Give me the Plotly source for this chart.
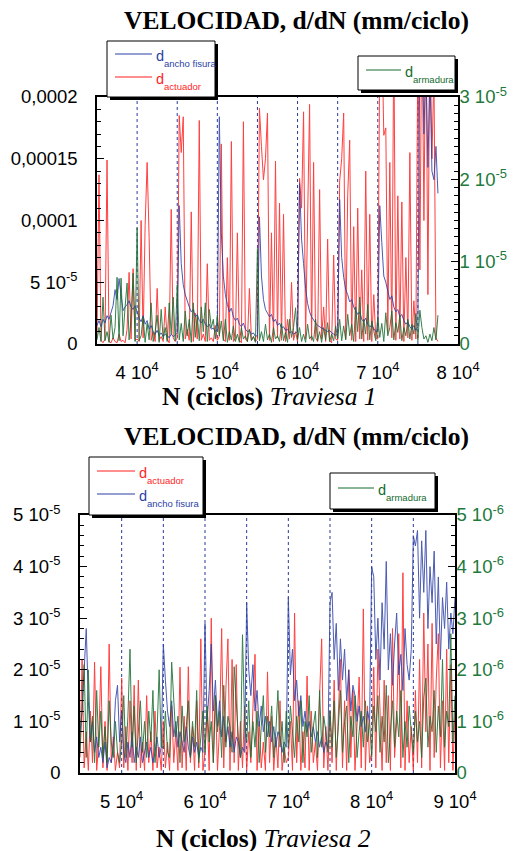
import plotly.graph_objects as go

# cycles (N) and rates d/dN, rates written in units of 1e-6 mm/ciclo
ciclos_1 = [
    35000, 35250, 35500, 35750, 36000, 36250, 36500, 36750, 37000, 37250, 37500, 37750, 38000, 38250, 38500, 38750, 39000, 39250, 39500, 39750,
    40000, 40250, 40500, 40750, 41000, 41250, 41500, 41750, 42000, 42250, 42500, 42750, 43000, 43250, 43500, 43750, 44000, 44250, 44500, 44750,
    45000, 45250, 45500, 45750, 46000, 46250, 46500, 46750, 47000, 47250, 47500, 47750, 48000, 48250, 48500, 48750, 49000, 49250, 49500, 49750,
    50000, 50250, 50500, 50750, 51000, 51250, 51500, 51750, 52000, 52250, 52500, 52750, 53000, 53250, 53500, 53750, 54000, 54250, 54500, 54750,
    55000, 55250, 55500, 55750, 56000, 56250, 56500, 56750, 57000, 57250, 57500, 57750, 58000, 58250, 58500, 58750, 59000, 59250, 59500, 59750,
    60000, 60250, 60500, 60750, 61000, 61250, 61500, 61750, 62000, 62250, 62500, 62750, 63000, 63250, 63500, 63750, 64000, 64250, 64500, 64750,
    65000, 65250, 65500, 65750, 66000, 66250, 66500, 66750, 67000, 67250, 67500, 67750, 68000, 68250, 68500, 68750, 69000, 69250, 69500, 69750,
    70000, 70250, 70500, 70750, 71000, 71250, 71500, 71750, 72000, 72250, 72500, 72750, 73000, 73250, 73500, 73750, 74000, 74250, 74500, 74750,
    75000, 75250, 75500, 75750, 76000, 76250, 76500, 76750, 77000, 77250, 77500,
]
actuador_1 = [
    6, 137, 3, 1, 4, 149, 2, 1, 5, 2, 1, 8, 2, 3, 1, 12, 58, 4, 61, 3,
    4, 2, 100, 5, 96, 147, 86, 3, 10, 2, 45, 3, 6, 2, 30, 4, 1, 109, 5, 2,
    5, 185, 155, 184, 4, 12, 3, 107, 2, 25, 4, 181, 3, 8, 2, 65, 3, 5, 2, 15,
    3, 6, 162, 4, 2, 70, 3, 164, 2, 5, 90, 3, 1, 180, 4, 2, 45, 3, 6, 2,
    4, 191, 160, 133, 150, 187, 3, 90, 2, 148, 5, 114, 3, 105, 2, 20, 4, 50, 3, 10,
    2, 134, 110, 188, 4, 100, 194, 3, 147, 5, 2, 125, 4, 30, 2, 85, 3, 1, 72, 4,
    3, 132, 150, 187, 4, 120, 165, 3, 95, 2, 110, 4, 60, 2, 140, 3, 105, 2, 40, 5,
    4, 240, 260, 169, 175, 10, 147, 5, 250, 3, 120, 4, 115, 2, 70, 5, 155, 3, 35, 4,
    250, 60, 280, 100, 270, 40, 260, 150, 220, 5, 2,
]
fisura_1 = [
    15, 19, 14, 20, 17, 23, 20, 26, 31, 44, 36, 53, 38, 27, 30, 32, 35, 30, 28, 31,
    26, 21, 18, 23, 16, 19, 12, 15, 10, 8, 11, 7, 9, 6, 8, 7, 5, 8, 6, 7,
    9, 112, 65, 48, 40, 34, 30, 26, 28, 22, 24, 19, 17, 20, 16, 14, 16, 12, 13, 10,
    12, 184, 90, 55, 40, 32, 26, 29, 22, 19, 21, 16, 14, 17, 12, 10, 11, 8, 9, 6,
    7, 103, 55, 36, 28, 25, 22, 24, 18, 20, 15, 17, 13, 14, 11, 12, 9, 10, 8, 9,
    10, 130, 85, 65, 45, 33, 26, 22, 19, 17, 15, 14, 13, 12, 11, 10, 11, 9, 8, 7,
    8, 117, 70, 54, 44, 40, 34, 36, 30, 27, 24, 26, 20, 18, 21, 16, 14, 15, 12, 10,
    11, 112, 82, 55, 50, 42, 36, 39, 30, 26, 28, 22, 24, 19, 16, 18, 14, 12, 15, 11,
    14, 240, 260, 170, 230, 143, 220, 140, 133, 160, 122,
]
armadura_1 = [
    0.5, 2.0, 0.3, 5.7, 0.4, 1.5, 0.2, 3.5, 0.6, 2.0, 8.1, 0.4, 8.0, 1.0, 4.5, 7.4, 0.5, 3.0, 8.6, 0.3,
    14.1, 0.4, 1.0, 3.3, 0.2, 2.5, 0.5, 5.0, 0.3, 1.5, 3.5, 0.2, 4.2, 0.6, 2.0, 0.3, 5.0, 1.2, 5.7, 0.4,
    7.2, 0.5, 2.5, 0.3, 4.0, 1.0, 3.0, 0.2, 5.0, 0.8, 3.5, 0.4, 4.5, 1.5, 5.0, 0.3, 4.2, 2.0, 3.0, 0.6,
    3.5, 1.0, 2.8, 0.4, 3.0, 0.2, 1.5, 0.5, 2.2, 0.3, 1.2, 0.2, 2.0, 0.6, 1.0, 0.3, 1.8, 0.4, 0.9, 0.2,
    11.6, 0.4, 1.5, 0.3, 2.4, 0.5, 1.2, 0.2, 2.0, 0.6, 1.0, 0.3, 2.5, 0.4, 1.4, 0.2, 3.0, 0.8, 2.0, 4.4,
    0.5, 2.0, 0.3, 1.2, 0.2, 2.4, 0.6, 1.0, 0.3, 3.0, 0.4, 1.5, 0.2, 2.0, 0.5, 2.6, 0.3, 1.2, 0.4, 2.2,
    0.6, 3.0, 0.4, 2.2, 0.5, 3.6, 1.0, 2.4, 0.3, 4.5, 1.5, 5.7, 0.6, 3.0, 1.2, 4.8, 0.5, 2.8, 1.6, 0.4,
    3.2, 0.8, 2.5, 0.3, 3.8, 1.0, 2.0, 4.0, 0.5, 2.6, 1.4, 3.5, 0.4, 2.0, 1.0, 3.0, 0.6, 2.4, 1.2, 3.7,
    0.4, 4.1, 2.0, 0.6, 1.0, 0.2, 1.2, 0.4, 2.0, 0.5, 3.5,
]

ciclos_2 = [
    45000, 45250, 45500, 45750, 46000, 46250, 46500, 46750, 47000, 47250, 47500, 47750, 48000, 48250, 48500, 48750, 49000, 49250, 49500, 49750,
    50000, 50250, 50500, 50750, 51000, 51250, 51500, 51750, 52000, 52250, 52500, 52750, 53000, 53250, 53500, 53750, 54000, 54250, 54500, 54750,
    55000, 55250, 55500, 55750, 56000, 56250, 56500, 56750, 57000, 57250, 57500, 57750, 58000, 58250, 58500, 58750, 59000, 59250, 59500, 59750,
    60000, 60250, 60500, 60750, 61000, 61250, 61500, 61750, 62000, 62250, 62500, 62750, 63000, 63250, 63500, 63750, 64000, 64250, 64500, 64750,
    65000, 65250, 65500, 65750, 66000, 66250, 66500, 66750, 67000, 67250, 67500, 67750, 68000, 68250, 68500, 68750, 69000, 69250, 69500, 69750,
    70000, 70250, 70500, 70750, 71000, 71250, 71500, 71750, 72000, 72250, 72500, 72750, 73000, 73250, 73500, 73750, 74000, 74250, 74500, 74750,
    75000, 75250, 75500, 75750, 76000, 76250, 76500, 76750, 77000, 77250, 77500, 77750, 78000, 78250, 78500, 78750, 79000, 79250, 79500, 79750,
    80000, 80250, 80500, 80750, 81000, 81250, 81500, 81750, 82000, 82250, 82500, 82750, 83000, 83250, 83500, 83750, 84000, 84250, 84500, 84750,
    85000, 85250, 85500, 85750, 86000, 86250, 86500, 86750, 87000, 87250, 87500, 87750, 88000, 88250, 88500, 88750, 89000, 89250, 89500, 89750, 90000,
]
actuador_2 = [
    3, 22, 1, 8, 0.5, 12, 2, 21.5, 0.5, 6, 20.6, 1, 10, 0.5, 25, 2, 7, 0.5, 4, 1,
    18.4, 1, 9, 0.5, 14, 2, 17, 0.5, 18, 1, 6, 0.5, 15, 2, 8, 0.5, 12, 1, 5, 0.5,
    10, 1, 6, 0.5, 13, 2, 8, 0.5, 20.5, 1, 11, 0.5, 20.6, 2, 9, 0.5, 14, 1, 26, 0.5,
    4, 12, 0.5, 30, 2, 15, 0.5, 9, 28, 1, 16, 26, 0.5, 22, 2, 21, 0.5, 10, 1, 13,
    0.5, 8, 2, 12, 23, 0.5, 10, 1, 6, 0.5, 19.6, 2, 11, 0.5, 7, 1, 14, 0.5, 5, 2,
    3, 10, 0.5, 31, 2, 14, 0.5, 8, 1, 18.8, 0.5, 12, 2, 6, 0.5, 15, 26, 1, 9, 0.5,
    12, 2, 18, 0.5, 10, 22, 1, 14, 0.5, 20, 3, 16, 0.5, 11, 18.6, 1, 31.8, 0.5, 13, 2,
    4, 20.5, 1, 24, 12, 0.5, 18, 2, 15, 0.5, 28, 3, 10, 27, 1, 38.8, 0.5, 14, 2, 9,
    0.5, 16, 2, 22, 1, 31, 8, 25, 0.5, 29, 3, 18, 27, 1, 14, 0.5, 24, 2, 21, 0.5, 12,
]
fisura_2 = [
    8, 12, 20, 28, 14, 6, 10, 4, 7, 3, 5, 2, 6, 1, 3, 2, 5, 14, 17, 6,
    12, 4, 2, 6, 3, 8, 2, 5, 3, 7, 2, 4, 6, 3, 5, 2, 4, 7, 3, 5,
    25, 18, 12, 9, 14, 7, 10, 5, 8, 6, 4, 9, 5, 3, 7, 4, 6, 3, 5, 4,
    29, 10, 16, 25, 12, 18, 9, 14, 7, 11, 6, 9, 5, 8, 4, 7, 6, 3, 5, 4,
    33, 20, 15, 21, 12, 16, 9, 13, 8, 11, 7, 10, 6, 9, 5, 8, 7, 4, 6, 5,
    34, 19, 24, 14, 18, 11, 15, 9, 12, 8, 10, 7, 9, 6, 8, 5, 7, 4, 6, 5,
    33, 35, 22, 29, 16, 26, 18, 24, 14, 20, 12, 17, 15, 10, 13, 9, 11, 8, 12, 10,
    40, 38, 22, 30, 18, 33, 24, 41, 20, 27, 17, 25, 31, 19, 23, 16, 28, 21, 18, 24,
    46, 44, 47, 30, 45, 35, 47, 28, 40, 33, 43, 25, 38, 22, 34, 28, 37, 24, 31, 27, 34,
]
armadura_2 = [
    0.4, 1.3, 2.1, 0.3, 2.0, 0.6, 1.1, 0.2, 1.6, 0.5, 1.2, 0.3, 0.9, 0.2, 1.4, 0.6, 0.3, 1.0, 0.4, 0.2,
    0.6, 1.5, 0.3, 1.1, 2.4, 0.5, 1.3, 0.2, 0.9, 1.4, 0.4, 1.0, 0.3, 1.2, 0.6, 1.6, 0.2, 0.8, 2.0, 0.5,
    0.5, 1.2, 0.4, 0.3, 2.15, 1.5, 0.7, 1.1, 0.2, 1.3, 0.6, 0.9, 1.4, 0.3, 1.0, 0.5, 1.6, 0.2, 0.8, 1.2,
    0.4, 1.3, 0.6, 1.0, 0.2, 1.5, 0.8, 1.2, 0.3, 1.7, 0.5, 1.1, 0.9, 0.4, 2.06, 1.3, 0.7, 0.3, 2.68, 1.0,
    0.6, 1.4, 0.3, 1.0, 0.5, 1.2, 0.2, 0.9, 1.5, 0.4, 1.1, 0.7, 1.3, 0.3, 0.8, 1.6, 0.5, 1.0, 0.2, 1.2,
    0.5, 1.3, 0.8, 0.3, 1.1, 0.6, 1.4, 0.2, 1.0, 0.7, 1.5, 0.4, 0.9, 1.2, 0.3, 1.6, 0.5, 1.1, 0.8, 0.4,
    1.2, 0.5, 1.4, 0.3, 0.9, 1.6, 0.4, 1.0, 1.3, 0.2, 1.1, 0.7, 1.5, 0.3, 0.8, 1.2, 0.5, 1.4, 0.6, 1.0,
    0.3, 1.3, 0.8, 1.5, 0.4, 1.1, 0.6, 1.7, 0.2, 0.9, 1.4, 0.5, 1.2, 0.7, 1.6, 0.3, 1.0, 0.5, 1.3, 0.8,
    0.4, 1.2, 0.6, 1.0, 0.3, 1.47, 1.84, 0.5, 1.1, 0.8, 1.6, 0.4, 1.3, 0.7, 2.2, 0.5, 1.2, 0.9, 2.7, 0.6, 1.5,
]
UNIT = 1e-6

# load steps (dotted verticals)
pasos_1 = [40000, 45000, 50000, 55000, 60000, 65000, 70000, 75000]
pasos_2 = [50000, 55000, 60000, 65000, 70000, 75000, 80000, 85000]

# ticks
x1_vals = [40000, 50000, 60000, 70000, 80000]
x1_text = ['4 10<sup>4</sup>', '5 10<sup>4</sup>', '6 10<sup>4</sup>', '7 10<sup>4</sup>', '8 10<sup>4</sup>']
y1_vals = [0, 5e-5, 1e-4, 1.5e-4, 2e-4]
y1_text = ['0', '5 10<sup>-5</sup>', '0,0001', '0,00015', '0,0002']
y2_vals = [0, 1e-5, 2e-5, 3e-5]
y2_text = ['0', '1 10<sup>-5</sup>', '2 10<sup>-5</sup>', '3 10<sup>-5</sup>']
x2_vals = [50000, 60000, 70000, 80000, 90000]
x2_text = ['5 10<sup>4</sup>', '6 10<sup>4</sup>', '7 10<sup>4</sup>', '8 10<sup>4</sup>', '9 10<sup>4</sup>']
y3_vals = [0, 1e-5, 2e-5, 3e-5, 4e-5, 5e-5]
y3_text = ['0', '1 10<sup>-5</sup>', '2 10<sup>-5</sup>', '3 10<sup>-5</sup>', '4 10<sup>-5</sup>', '5 10<sup>-5</sup>']
y4_vals = [0, 1e-6, 2e-6, 3e-6, 4e-6, 5e-6]
y4_text = ['0', '1 10<sup>-6</sup>', '2 10<sup>-6</sup>', '3 10<sup>-6</sup>', '4 10<sup>-6</sup>', '5 10<sup>-6</sup>']

for s in (actuador_1, fisura_1, armadura_1):
    assert len(s) == len(ciclos_1)
for s in (actuador_2, fisura_2, armadura_2):
    assert len(s) == len(ciclos_2)

RED = '#ff1f1f'
BLUE = '#2c3fa6'
GREEN = '#166b2e'
GREEN_TXT = '#22793c'
STEP = '#2b3a98'
# the page body keeps its 8px margin, so the figure is 8px smaller each way
# and positions below are given in window pixels
OFF = 8
W, H = 532 - OFF, 851 - OFF
SANS = 'Liberation Sans, Arial, sans-serif'
SERIF = 'Liberation Serif, Times New Roman, serif'


def px(x):
    return (x - OFF) / W


def py(y):
    return 1 - (y - OFF) / H


def scaled(vals):
    return [v * UNIT for v in vals]


fig = go.Figure()
for x, ys, xa, ya in [(ciclos_1, [actuador_1, fisura_1, armadura_1], 'x', ['y', 'y', 'y2']),
                      (ciclos_2, [actuador_2, fisura_2, armadura_2], 'x2', ['y3', 'y3', 'y4'])]:
    for vals, color, yaxis in zip(ys, [RED, BLUE, GREEN], ya):
        fig.add_trace(go.Scatter(x=x, y=scaled(vals), xaxis=xa, yaxis=yaxis, mode='lines',
                                 line=dict(color=color, width=1), opacity=0.85,
                                 showlegend=False, hoverinfo='skip'))

tickfont = dict(family=SANS, size=18.5, color='black')
greenfont = dict(family=SANS, size=18.5, color=GREEN_TXT)


def xaxis(domain, rng, vals, text, anchor):
    return dict(domain=domain, range=rng, anchor=anchor, tickmode='array', tickvals=vals, ticktext=text,
                ticks='', showline=True, linecolor='black', linewidth=1.5, mirror=True,
                showgrid=False, zeroline=False, tickfont=tickfont, ticklabelstandoff=11)


def yaxis(rng, vals, text, minor, anchor, side='left', font=tickfont, overlay=None, domain=None, standoff=14):
    d = dict(range=rng, anchor=anchor, side=side, tickmode='array', tickvals=vals, ticktext=text,
             ticks='inside', ticklen=7, tickwidth=1, tickcolor='black',
             minor=dict(ticks='inside', ticklen=4, dtick=minor, tick0=0, tickcolor='black', tickwidth=1),
             showline=True, linecolor='black', linewidth=1.5, showgrid=False, zeroline=False,
             tickfont=font, ticklabelstandoff=standoff)
    if overlay:
        d['overlaying'] = overlay
    if domain:
        d['domain'] = domain
    return d


shapes = []
for pasos, xr, yr in [(pasos_1, 'x', 'y domain'), (pasos_2, 'x2', 'y3 domain')]:
    for n in pasos:
        shapes.append(dict(type='line', xref=xr, yref=yr, x0=n, x1=n, y0=0, y1=1, layer='below',
                           line=dict(color=STEP, width=1, dash='dot')))

annotations = []


def legend_box(x0, y0, x1, y1, entries):
    shapes.append(dict(type='rect', xref='paper', yref='paper', x0=px(x0 + 3), x1=px(x1 + 3),
                       y0=py(y0 + 3), y1=py(y1 + 3), fillcolor='black', line=dict(width=0)))
    shapes.append(dict(type='rect', xref='paper', yref='paper', x0=px(x0), x1=px(x1),
                       y0=py(y0), y1=py(y1), fillcolor='white', line=dict(color='black', width=1)))
    for la, lb, ly, color, name in entries:
        shapes.append(dict(type='line', xref='paper', yref='paper', x0=px(la), x1=px(lb),
                           y0=py(ly), y1=py(ly), line=dict(color=color, width=1)))
        annotations.append(dict(x=px(lb + 2), y=py(ly + 2), xref='paper', yref='paper',
                                xanchor='left', yanchor='middle', showarrow=False,
                                text='d', font=dict(family=SANS, size=14.5, color=color)))
        annotations.append(dict(x=px(lb + 10), y=py(ly + 9), xref='paper', yref='paper',
                                xanchor='left', yanchor='middle', showarrow=False,
                                text=name, font=dict(family=SANS, size=9.5, color=color)))


legend_box(107, 41, 215, 97, [(115, 152, 54, BLUE, 'ancho fisura'), (115, 152, 77, RED, 'actuador')])
legend_box(358, 56, 455, 90, [(366, 401, 70, GREEN, 'armadura')])
legend_box(89, 457, 203, 515, [(97, 135, 471, RED, 'actuador'), (97, 135, 494, BLUE, 'ancho fisura')])
legend_box(330, 473, 435, 509, [(338, 374, 488, GREEN, 'armadura')])

for text, x, y in [('<b>VELOCIDAD, d/dN (mm/ciclo)</b>', 296, 21),
                   ('<b>VELOCIDAD, d/dN (mm/ciclo)</b>', 296, 436),
                   ('<b>N (ciclos)</b> <i>Traviesa 1</i>', 269, 396),
                   ('<b>N (ciclos)</b> <i>Traviesa 2</i>', 263, 838)]:
    annotations.append(dict(x=px(x), y=py(y), xref='paper', yref='paper', xanchor='center', yanchor='middle',
                            showarrow=False, text=text, font=dict(family=SERIF, size=25.5, color='black')))

fig.update_layout(
    width=W, height=H, template='none',
    margin=dict(l=0, r=0, t=0, b=0),
    paper_bgcolor='white', plot_bgcolor='white', showlegend=False,
    xaxis=xaxis([px(97), px(458)], [35000, 80000], x1_vals, x1_text, 'y'),
    yaxis=yaxis([0, 2e-4], y1_vals, y1_text, 1e-5, 'x', domain=[py(344), py(97)]),
    yaxis2=yaxis([0, 3e-5], y2_vals, y2_text, 1e-6, 'x', side='right', font=greenfont, overlay='y', standoff=-4),
    xaxis2=xaxis([px(80), px(455)], [45000, 90000], x2_vals, x2_text, 'y3'),
    yaxis3=yaxis([0, 5e-5], y3_vals, y3_text, 2e-6, 'x2', domain=[py(773), py(515)]),
    yaxis4=yaxis([0, 5e-6], y4_vals, y4_text, 2e-7, 'x2', side='right', font=greenfont, overlay='y3', standoff=-4),
    shapes=shapes, annotations=annotations,
)

fig.write_html("out.html")
